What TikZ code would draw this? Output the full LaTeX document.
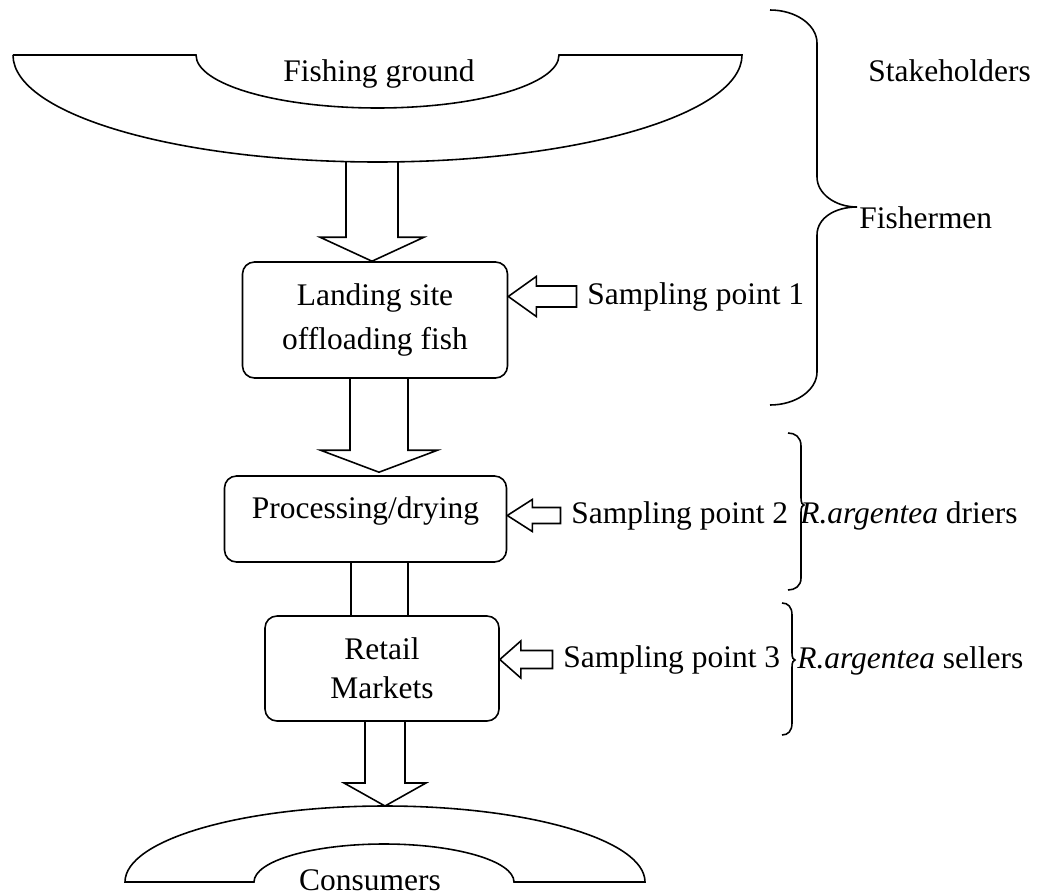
\documentclass[tikz,border=0pt]{standalone}
\usepackage{fontspec}
\setmainfont{Liberation Serif}
\usetikzlibrary{calc}

% hollow down arrow: top point, tip, shaft half width, head half width, head length
\newcommand{\flowarrow}[5]{%
  \draw[blockline] let \p1=(#1), \p2=(#2) in
    (\x2-#3,\y1) -- (\x2-#3,\y2+#5) -- (\x2-#4,\y2+#5) -- (\x2,\y2)
    -- (\x2+#4,\y2+#5) -- (\x2+#3,\y2+#5) -- (\x2+#3,\y1);}
% hollow left arrow from a label to a box: label, box, head length, head half width, shaft half width
\newcommand{\sidearrow}[5]{%
  \draw[blockline] let \p1=(#1.west), \p2=(#2.east) in
    (\x2,\y1) -- (\x2+#3,\y1+#4) -- (\x2+#3,\y1+#5) -- (\x1,\y1+#5)
    -- (\x1,\y1-#5) -- (\x2+#3,\y1-#5) -- (\x2+#3,\y1-#4) -- cycle;}

\begin{document}
\begin{tikzpicture}[
        font=\fontsize{17.9}{24.5}\selectfont,
        blockline/.style={line width=0.9pt, line join=miter},
        flowbox/.style={draw, line width=0.9pt, rounded corners=0.24cm, align=center, inner sep=0pt},
        sidelabel/.style={anchor=base west, inner xsep=0.21cm},
    ]
    \useasboundingbox (0,0) rectangle (20.84,-17.90);

    % === Fishing ground ===
    \draw[blockline] (0.26,-1.10) -- (3.92,-1.10)
        arc[start angle=180, end angle=360, x radius=3.63, y radius=1.06]
        -- (14.84,-1.10)
        arc[start angle=0, end angle=-180, x radius=7.29, y radius=2.14] -- cycle;
    \node[anchor=base] (fishing) at (7.58,-1.64) {Fishing ground};
    \coordinate (fg) at (7.44,-3.23);

    % === Chain of boxes ===
    \node[flowbox, minimum width=5.30cm, minimum height=2.32cm] (land) at (7.50,-6.40) {Landing site\\offloading fish};
    \node[flowbox, minimum width=5.64cm, minimum height=1.72cm, text height=0.84cm, text depth=0.88cm] (proc) at (7.31,-10.38) {Processing/drying};
    \node[flowbox, minimum width=4.68cm, minimum height=2.10cm, font=\fontsize{17.9}{22.2}\selectfont] (retail) at (7.64,-13.37) {Retail\\Markets};

    % === Consumers ===
    \draw[blockline] (2.50,-17.64)
        arc[start angle=180, end angle=0, x radius=5.20, y radius=1.52]
        -- (10.28,-17.64)
        arc[start angle=0, end angle=180, x radius=2.60, y radius=0.76] -- cycle;
    \node[anchor=base] (consumers) at (7.40,-17.81) {Consumers};
    \coordinate (cg) at (7.70,-16.12);

    % Flow arrows
    \flowarrow{fg}{$(land.north)+(-0.06,0)$}{0.52cm}{1.04cm}{0.48cm}
    \flowarrow{land.south}{$(proc.north)+(0.27,0.06)$}{0.58cm}{1.17cm}{0.44cm}
    \draw[blockline] let \p1=(proc.south), \p2=(retail.north) in
        (7.02cm,\y1) -- (7.02cm,\y2) (8.16cm,\y1) -- (8.16cm,\y2);
    \flowarrow{retail.south}{cg}{0.40cm}{0.82cm}{0.46cm}

    % Sampling points
    \node[sidelabel] (sp1) at (11.53,-6.08) {Sampling point 1};
    \node[sidelabel] (sp2) at (11.21,-10.46) {Sampling point 2};
    \node[sidelabel] (sp3) at (11.05,-13.34) {Sampling point 3};
    \sidearrow{sp1}{land}{0.56cm}{0.40cm}{0.21cm}
    \sidearrow{sp2}{proc}{0.50cm}{0.32cm}{0.16cm}
    \sidearrow{sp3}{retail}{0.42cm}{0.37cm}{0.18cm}

    % Braces
    \draw[blockline] (15.40,-0.20) .. controls (15.92,-0.20) and (16.34,-0.50) .. (16.34,-0.86)
        -- (16.34,-3.54) .. controls (16.34,-3.87) and (16.70,-4.14) .. (17.14,-4.14)
        .. controls (16.70,-4.14) and (16.34,-4.36) .. (16.34,-4.70)
        -- (16.34,-7.44) .. controls (16.34,-7.80) and (15.92,-8.10) .. (15.40,-8.10);
    \draw[blockline] (15.76,-8.66) .. controls (15.90,-8.66) and (16.02,-8.74) .. (16.02,-8.92)
        -- (16.02,-9.96) .. controls (16.02,-10.06) and (16.05,-10.10) .. (16.08,-10.10)
        .. controls (16.05,-10.10) and (16.02,-10.14) .. (16.02,-10.24)
        -- (16.02,-11.56) .. controls (16.02,-11.72) and (15.90,-11.80) .. (15.76,-11.80);
    \draw[blockline] (15.64,-12.06) .. controls (15.76,-12.06) and (15.84,-12.14) .. (15.84,-12.30)
        -- (15.84,-13.06) .. controls (15.84,-13.16) and (15.87,-13.20) .. (15.90,-13.20)
        .. controls (15.87,-13.20) and (15.84,-13.24) .. (15.84,-13.34)
        -- (15.84,-14.46) .. controls (15.84,-14.62) and (15.76,-14.70) .. (15.64,-14.70);

    % Stakeholders
    \node[sidelabel] (stake) at (17.15,-1.64) {Stakeholders};
    \node[sidelabel] (fishermen) at (16.97,-4.56) {Fishermen};
    \node[sidelabel] (driers) at (15.79,-10.46) {\textit{R.argentea} driers};
    \node[sidelabel] (sellers) at (15.73,-13.36) {\textit{R.argentea} sellers};

\end{tikzpicture}
\end{document}
